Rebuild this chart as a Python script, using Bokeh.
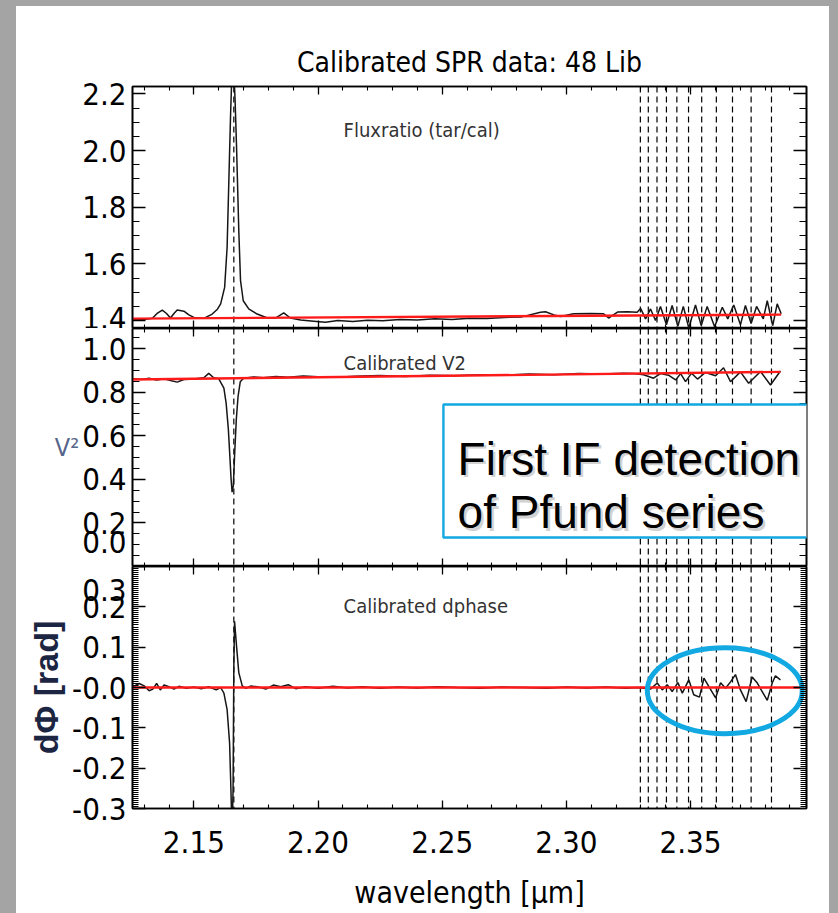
from bokeh.plotting import figure
from bokeh.models import (Range1d, LinearAxis, SingleIntervalTicker, FixedTicker,
                          PrintfTickFormatter, Span, Label, BoxAnnotation, Row, Column, Spacer)
from bokeh.embed import file_html
from bokeh.resources import INLINE

# ---------------- data ----------------
title_text = "Calibrated SPR data: 48 Lib"
panel_titles = ["Fluxratio (tar/cal)", "Calibrated V2", "Calibrated dphase"]
callout_lines = ["First IF detection", "of Pfund series"]

# Br-gamma and Pfund (n=24..34) line positions [micron]
brg_line = [2.1661]
pfund_lines = [2.3826, 2.3744, 2.3669, 2.3604, 2.3545, 2.3492, 2.3445, 2.3403, 2.3365, 2.3330, 2.3298]

# tick values of the left axes
v2_ticks = [0.0, 0.2, 0.4, 0.6, 0.8, 1.0]
dphi_ticks = [-0.3, -0.2, -0.1, 0.0, 0.1, 0.2, 0.3]

flux_wl = [2.1256, 2.1300, 2.1333, 2.1352, 2.1373, 2.1390, 2.1406, 2.1420, 2.1433, 2.1460, 2.1480,
           2.1500, 2.1540, 2.1574, 2.1595, 2.1608, 2.1624, 2.1634, 2.1641, 2.1648, 2.1654, 2.1660,
           2.1666, 2.1672, 2.1681, 2.1688, 2.1699, 2.1721, 2.1755, 2.1796, 2.1829, 2.1862, 2.1889,
           2.1930, 2.1983, 2.2030, 2.2080, 2.2140, 2.2200, 2.2260, 2.2330, 2.2400, 2.2470, 2.2540,
           2.2610, 2.2680, 2.2750, 2.2820, 2.2896, 2.2916, 2.2950, 2.2977, 2.3029, 2.3097, 2.3150,
           2.3170, 2.3206, 2.3246, 2.3285, 2.3299, 2.3319, 2.3339, 2.3359, 2.3379, 2.3403, 2.3426,
           2.3449, 2.3471, 2.3493, 2.3520, 2.3543, 2.3567, 2.3597, 2.3628, 2.3650, 2.3674, 2.3701,
           2.3721, 2.3744, 2.3766, 2.3793, 2.3809, 2.3831, 2.3849, 2.3865]
flux = [1.405, 1.404, 1.408, 1.425, 1.437, 1.425, 1.409, 1.425, 1.437, 1.433, 1.420,
        1.411, 1.408, 1.423, 1.440, 1.459, 1.517, 1.659, 1.894, 2.129, 2.290, 2.300,
        2.180, 2.012, 1.717, 1.541, 1.470, 1.441, 1.423, 1.409, 1.409, 1.427, 1.409,
        1.402, 1.398, 1.394, 1.400, 1.397, 1.401, 1.399, 1.404, 1.402, 1.406, 1.404,
        1.408, 1.407, 1.411, 1.413, 1.429, 1.431, 1.420, 1.414, 1.424, 1.425, 1.424,
        1.409, 1.430, 1.431, 1.429, 1.443, 1.406, 1.441, 1.400, 1.450, 1.385, 1.453,
        1.380, 1.450, 1.374, 1.455, 1.382, 1.450, 1.378, 1.447, 1.406, 1.455, 1.385,
        1.453, 1.390, 1.450, 1.406, 1.470, 1.382, 1.459, 1.424]
flux_fit_wl = [2.1253, 2.3865]
flux_fit = [1.407, 1.421]

v2_wl = [2.1256, 2.1290, 2.1320, 2.1350, 2.1380, 2.1410, 2.1433, 2.1460, 2.1500, 2.1540, 2.1560,
         2.1580, 2.1600, 2.1621, 2.1630, 2.1639, 2.1645, 2.1650, 2.1654, 2.1659, 2.1664, 2.1671,
         2.1678, 2.1687, 2.1700, 2.1740, 2.1780, 2.1830, 2.1880, 2.1940, 2.2000, 2.2080, 2.2150,
         2.2250, 2.2350, 2.2450, 2.2550, 2.2650, 2.2750, 2.2850, 2.2950, 2.3050, 2.3150, 2.3230,
         2.3271, 2.3311, 2.3351, 2.3379, 2.3411, 2.3440, 2.3460, 2.3480, 2.3504, 2.3528, 2.3560,
         2.3601, 2.3633, 2.3661, 2.3701, 2.3734, 2.3782, 2.3822, 2.3862]
v2 = [0.862, 0.858, 0.864, 0.856, 0.861, 0.852, 0.846, 0.858, 0.860, 0.866, 0.886,
      0.866, 0.862, 0.818, 0.750, 0.629, 0.507, 0.401, 0.341, 0.371, 0.507, 0.674,
      0.780, 0.848, 0.864, 0.870, 0.866, 0.872, 0.868, 0.874, 0.871, 0.868, 0.873,
      0.876, 0.872, 0.878, 0.875, 0.880, 0.878, 0.883, 0.880, 0.885, 0.883, 0.887,
      0.885, 0.880, 0.864, 0.885, 0.878, 0.856, 0.885, 0.848, 0.887, 0.860, 0.890,
      0.875, 0.912, 0.848, 0.893, 0.841, 0.895, 0.833, 0.897]
v2_fit_wl = [2.1253, 2.3862]
v2_fit = [0.858, 0.893]

dphi_wl = [2.1256, 2.1280, 2.1300, 2.1320, 2.1335, 2.1350, 2.1365, 2.1380, 2.1400, 2.1420, 2.1440,
           2.1470, 2.1500, 2.1530, 2.1560, 2.1590, 2.1608, 2.1621, 2.1634, 2.1644, 2.1649, 2.1653,
           2.1655, 2.1658, 2.1661, 2.1664, 2.1672, 2.1681, 2.1695, 2.1710, 2.1730, 2.1760, 2.1790,
           2.1820, 2.1850, 2.1880, 2.1910, 2.1950, 2.2000, 2.2060, 2.2120, 2.2180, 2.2250, 2.2320,
           2.2400, 2.2480, 2.2560, 2.2650, 2.2740, 2.2830, 2.2920, 2.3000, 2.3080, 2.3160, 2.3240,
           2.3285, 2.3339, 2.3366, 2.3386, 2.3406, 2.3426, 2.3449, 2.3467, 2.3493, 2.3513, 2.3536,
           2.3554, 2.3574, 2.3601, 2.3621, 2.3641, 2.3661, 2.3681, 2.3701, 2.3724, 2.3748, 2.3769,
           2.3809, 2.3829, 2.3842, 2.3862]
dphi = [0.002, 0.010, 0.004, -0.008, -0.004, 0.010, -0.006, 0.006, 0.002, -0.004, 0.003,
        -0.002, 0.001, -0.003, 0.002, -0.006, 0.000, -0.014, -0.055, -0.138, -0.246, -0.340,
        -0.340, -0.250, 0.050, 0.164, 0.102, 0.037, 0.004, -0.002, 0.004, 0.001, -0.004,
        0.006, 0.002, 0.007, -0.003, 0.002, -0.002, 0.003, -0.001, 0.002, -0.002, 0.001,
        -0.001, 0.002, 0.000, -0.002, 0.001, 0.000, -0.002, 0.001, -0.001, 0.001, -0.002,
        0.000, -0.004, 0.011, -0.006, 0.007, -0.010, 0.012, -0.014, 0.019, -0.018, -0.024,
        0.023, 0.002, -0.026, 0.012, -0.002, 0.014, 0.032, -0.006, -0.035, 0.026, 0.011,
        -0.032, 0.011, 0.029, 0.019]
dphi_fit_wl = [2.1253, 2.3945]
dphi_fit = [0.0, 0.0]

# ---------------- styling ----------------
NARROW = "DejaVu Sans Condensed"
SANS = "Liberation Sans"
TICK_SIZE = "31px"
PAGE_GRAY = "#a4a4a4"
CYAN = "#12a8e2"
X_RANGE = (2.1253, 2.3967)
Y_RANGES = [(1.372, 2.226), (0.0, 1.092), (-0.3, 0.3)]
FIG_W = 813
FRAME_LEFT = 116
FRAME_RIGHT = 23

xr = Range1d(*X_RANGE)


def make_fig(height, yrange, top, bottom):
    p = figure(width=FIG_W, height=height, x_range=xr, y_range=Range1d(*yrange),
               x_axis_location=None, y_axis_location=None,
               output_backend="svg", toolbar_location=None,
               min_border_left=FRAME_LEFT, min_border_right=FRAME_RIGHT,
               min_border_top=top, min_border_bottom=bottom,
               background_fill_color="white", border_fill_color="white",
               outline_line_color="black", outline_line_width=1.6)
    p.xgrid.visible = False
    p.ygrid.visible = False
    return p


def style_axis(ax, maj, mnr, labelled):
    ax.major_tick_in = maj
    ax.major_tick_out = 0
    ax.minor_tick_in = mnr
    ax.minor_tick_out = 0
    ax.axis_line_color = "black"
    ax.axis_line_width = 1.6
    ax.major_tick_line_width = 1.3
    ax.minor_tick_line_width = 1.1
    if labelled:
        ax.major_label_text_font = NARROW
        ax.major_label_text_font_size = TICK_SIZE
        ax.major_label_text_color = "black"
        ax.major_label_standoff = 6
    else:
        ax.major_label_text_font_size = "0px"
        ax.major_label_standoff = 0
    return ax


def tick_only_axis(interval, nminor, maj, mnr):
    ax = LinearAxis(ticker=SingleIntervalTicker(interval=interval, num_minor_ticks=nminor))
    return style_axis(ax, maj, mnr, False)


def label_axis(ticker, maj, mnr, fmt):
    ax = LinearAxis(ticker=ticker, formatter=PrintfTickFormatter(format=fmt))
    return style_axis(ax, maj, mnr, True)


def add_x_ticks(p, with_below=True):
    p.add_layout(tick_only_axis(0.05, 5, 8, 4), "above")
    if with_below:
        p.add_layout(tick_only_axis(0.05, 5, 8, 4), "below")


def add_spans(p):
    for w in brg_line + pfund_lines:
        p.add_layout(Span(location=w, dimension="height", line_color="black",
                          line_dash="6 4", line_width=1.2, level="underlay"))


def add_panel_title(p, text, y):
    p.add_layout(Label(x=2.2103, y=y, text=text, text_font=NARROW, text_font_size="20px",
                       text_color="#333333", text_baseline="middle", text_align="left"))


# ---- panel 1: flux ratio ----
p1 = make_fig(322, Y_RANGES[0], 80, 0)
p1.title.text = title_text
p1.title.align = "center"
p1.title.text_font = NARROW
p1.title.text_font_size = "28px"
p1.title.text_font_style = "normal"
p1.title.text_color = "black"
p1.title.standoff = 15
p1.add_layout(label_axis(SingleIntervalTicker(interval=0.2, num_minor_ticks=4), 13, 7, "%.1f"), "left")
p1.add_layout(tick_only_axis(0.2, 4, 13, 7), "right")
add_x_ticks(p1)
add_spans(p1)
p1.line(flux_wl, flux, line_color="#161616", line_width=1.5)
p1.line(flux_fit_wl, flux_fit, line_color="#ff1a1a", line_width=2.4)
add_panel_title(p1, panel_titles[0], 2.074)

# ---- panel 2: V2 ----
p2 = make_fig(238, Y_RANGES[1], 0, 0)
v2_minor = [round(0.05 * i, 2) for i in range(22)]
ax2 = label_axis(FixedTicker(ticks=v2_ticks, minor_ticks=v2_minor), 13, 7, "%.1f")
ax2.major_label_overrides = {0.0: "0.0\n "}
ax2.major_label_text_line_height = 0.17
ax2.axis_label = "V²"
ax2.axis_label_orientation = "horizontal"
ax2.axis_label_text_font = NARROW
ax2.axis_label_text_font_size = "25px"
ax2.axis_label_text_font_style = "normal"
ax2.axis_label_text_color = "#56648a"
ax2.axis_label_standoff = 0
p2.add_layout(ax2, "left")
p2.add_layout(tick_only_axis(0.2, 4, 13, 7), "right")
add_x_ticks(p2)
add_spans(p2)
p2.line(v2_wl, v2, line_color="#161616", line_width=1.5)
p2.line(v2_fit_wl, v2_fit, line_color="#ff1a1a", line_width=2.4)
add_panel_title(p2, panel_titles[1], 0.935)

# callout box
p2.add_layout(BoxAnnotation(left=2.2505, right=2.45, bottom=0.133, top=0.743,
                            fill_color="white", fill_alpha=1.0,
                            line_color=CYAN, line_alpha=1.0, line_width=2.4,
                            level="annotation"))
for txt, yb in zip(callout_lines, [0.494, 0.249]):
    p2.add_layout(Label(x=2.2562, y=yb, text=txt, text_font=SANS, text_font_size="46px",
                        text_color="#9a9a9a", text_alpha=0.45, text_baseline="alphabetic",
                        x_offset=2.5, y_offset=-2.5))
    p2.add_layout(Label(x=2.2562, y=yb, text=txt, text_font=SANS, text_font_size="46px",
                        text_color="black", text_baseline="alphabetic"))

# ---- panel 3: differential phase ----
p3 = make_fig(347, Y_RANGES[2], 0, 105)
dphi_minor = [round(-0.3 + 0.005 * i, 3) for i in range(121)]
ax3 = label_axis(FixedTicker(ticks=dphi_ticks, minor_ticks=dphi_minor), 13, 6, "%.1f")
ax3.major_label_overrides = {0.0: "-0.0", 0.3: " \n0.3"}
ax3.major_label_text_line_height = 0.15
ax3.axis_label = "dΦ [rad]"
ax3.axis_label_text_font = SANS
ax3.axis_label_text_font_size = "34px"
ax3.axis_label_text_font_style = "bold"
ax3.axis_label_text_color = "#1c2541"
ax3.axis_label_standoff = 4
p3.add_layout(ax3, "left")
p3.add_layout(tick_only_axis(0.1, 20, 13, 6), "right")
add_x_ticks(p3, with_below=False)
xb = label_axis(SingleIntervalTicker(interval=0.05, num_minor_ticks=5), 8, 4, "%.2f")
xb.major_label_standoff = 22
xb.axis_label = "wavelength [µm]"
xb.axis_label_text_font = NARROW
xb.axis_label_text_font_size = "30px"
xb.axis_label_text_font_style = "normal"
xb.axis_label_text_color = "black"
xb.axis_label_standoff = 19
p3.add_layout(xb, "below")
add_spans(p3)
p3.line(dphi_wl, dphi, line_color="#161616", line_width=1.5)
p3.line(dphi_fit_wl, dphi_fit, line_color="#ff1a1a", line_width=2.4)
add_panel_title(p3, panel_titles[2], 0.203)
p3.ellipse(x=[2.3638], y=[-0.008], width=[0.0624], height=[0.213],
           fill_color=None, line_color=CYAN, line_width=5)

inner = Column(children=[p1, p2, p3], styles={"background-color": "white"})
page = Row(children=[Spacer(width=16, height=913),
                     Column(children=[Spacer(width=FIG_W, height=6), inner]),
                     Spacer(width=9, height=913)],
           styles={"background-color": PAGE_GRAY})

open("out.html", "w").write(file_html(page, INLINE))
